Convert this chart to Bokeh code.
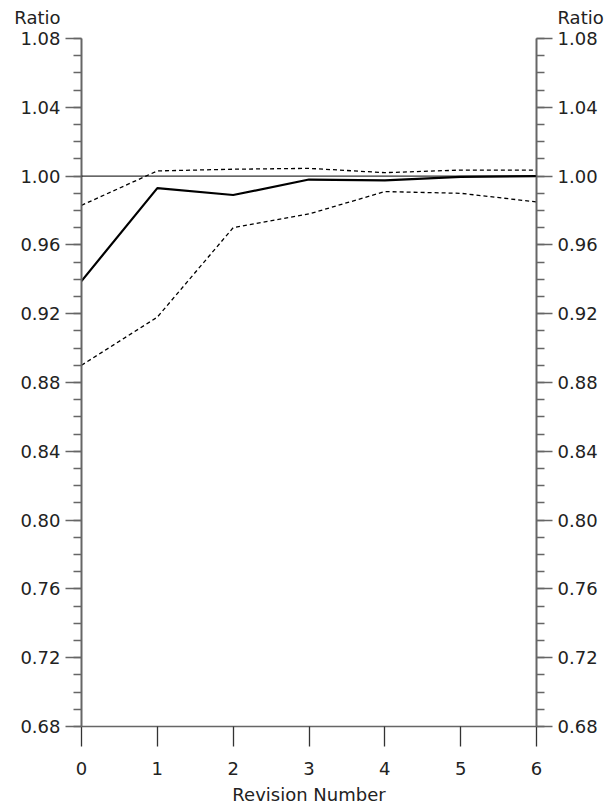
from bokeh.plotting import figure
from bokeh.layouts import column
from bokeh.models import (Range1d, LinearAxis, SingleIntervalTicker, FixedTicker,
                          NumeralTickFormatter, Span, Label)
from bokeh.embed import file_html
from bokeh.resources import INLINE

revision = [0, 1, 2, 3, 4, 5, 6]
ratio_mean = [0.939, 0.993, 0.989, 0.998, 0.9975, 0.9995, 1.000]
ratio_upper = [0.983, 1.003, 1.004, 1.0045, 1.002, 1.0035, 1.0035]
ratio_lower = [0.890, 0.918, 0.970, 0.978, 0.991, 0.990, 0.985]
x_ticks = [0, 1, 2, 3, 4, 5, 6]
y_title = "Ratio"
x_title = "Revision Number"

FONT = "DejaVu Sans"
FS = "18px"
TXT = "#222222"
AX = "#666666"
X0, X1 = 0, 6
Y0, Y1 = 0.68, 1.08
W = 605
HEADER_H = 26

p = figure(width=W, height=781, output_backend="svg", toolbar_location=None,
           x_range=Range1d(X0, X1), y_range=Range1d(Y0, Y1),
           min_border_left=81, min_border_right=69, min_border_top=12,
           min_border_bottom=81, y_axis_location=None)
p.outline_line_color = None
p.xgrid.visible = False
p.ygrid.visible = False
p.background_fill_color = "white"
p.border_fill_color = "white"

xa = p.xaxis[0]
xa.ticker = FixedTicker(ticks=x_ticks)
xa.axis_label = x_title
xa.major_tick_out = 20
xa.major_tick_in = 0
xa.minor_tick_out = 0
xa.minor_tick_in = 0
xa.axis_line_color = AX
xa.axis_line_width = 1.5
xa.major_tick_line_color = "#333333"
xa.major_tick_line_width = 1.3
xa.major_label_text_font = FONT
xa.major_label_text_font_size = FS
xa.major_label_text_color = TXT
xa.major_label_standoff = 15
xa.axis_label_text_font = FONT
xa.axis_label_text_font_size = FS
xa.axis_label_text_font_style = "normal"
xa.axis_label_text_color = TXT
xa.axis_label_standoff = 6

def make_yaxis():
    ax = LinearAxis(ticker=SingleIntervalTicker(interval=0.04, num_minor_ticks=4),
                    formatter=NumeralTickFormatter(format="0.00"))
    ax.major_tick_out = 16
    ax.major_tick_in = 0
    ax.minor_tick_out = 8
    ax.minor_tick_in = 0
    ax.axis_line_color = AX
    ax.axis_line_width = 2
    ax.major_tick_line_color = AX
    ax.major_tick_line_width = 1.5
    ax.minor_tick_line_color = AX
    ax.minor_tick_line_width = 1.5
    ax.major_label_text_font = FONT
    ax.major_label_text_font_size = FS
    ax.major_label_text_color = TXT
    ax.major_label_standoff = 5
    return ax

p.add_layout(make_yaxis(), "left")
p.add_layout(make_yaxis(), "right")

p.add_layout(Span(location=1.0, dimension="width", line_color="black", line_width=1))

p.line(revision, ratio_upper, line_color="black", line_width=1.3, line_dash="4 3")
p.line(revision, ratio_lower, line_color="black", line_width=1.3, line_dash="4 3")
p.line(revision, ratio_mean, line_color="black", line_width=2.2)

# header strip (frame aligned with the plot) carrying the "Ratio" titles in its side panels
h = figure(width=W, height=HEADER_H, output_backend="svg", toolbar_location=None,
           x_range=Range1d(X0, X1), y_range=Range1d(0, 1),
           min_border_left=81, min_border_right=69, min_border_top=0,
           min_border_bottom=0, x_axis_location=None, y_axis_location=None)
h.outline_line_color = None
h.xgrid.visible = False
h.ygrid.visible = False
h.background_fill_color = "white"
h.border_fill_color = "white"
h.add_layout(Label(x=X0, y=0.35, text=y_title, x_offset=-21,
                   text_align="right", text_baseline="middle", text_font=FONT,
                   text_font_size=FS, text_color=TXT), "left")
h.add_layout(Label(x=X1, y=0.35, text=y_title, x_offset=21,
                   text_align="left", text_baseline="middle", text_font=FONT,
                   text_font_size=FS, text_color=TXT), "right")

layout = column(h, p, spacing=0)
open("out.html", "w").write(file_html(layout, INLINE))
